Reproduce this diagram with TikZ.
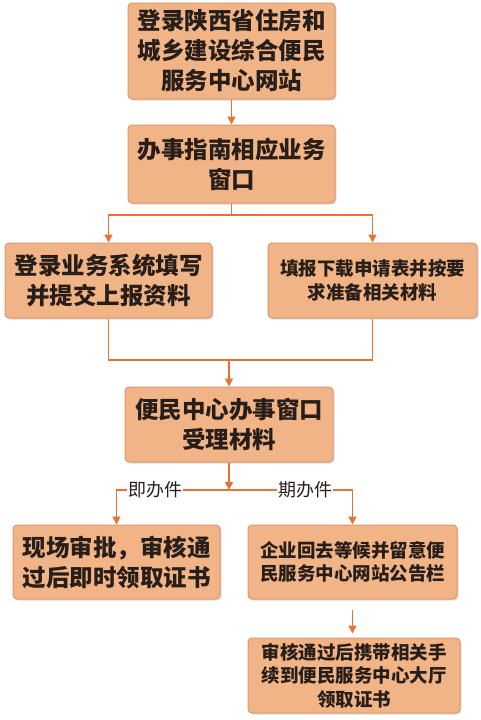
\documentclass[tikz,border=0pt]{standalone}
\usepackage{fontspec}
\newfontfamily\cjk{Noto Sans CJK SC}
\usetikzlibrary{arrows.meta,shadows}
\definecolor{boxfill}{RGB}{241,180,134}
\definecolor{boxedge}{RGB}{222,150,105}
\definecolor{lineor}{RGB}{230,115,50}
\definecolor{txt}{RGB}{40,30,25}
\tikzset{
  flowbox/.style={draw=boxedge, line width=1pt, fill=boxfill, rounded corners=4pt,
    drop shadow={shadow xshift=1.5pt, shadow yshift=-1.5pt, opacity=0.25},
    align=center, text=txt, inner sep=0pt, font=\cjk\bfseries},
  bigtxt/.style={font=\cjk\bfseries\fontsize{23.5}{30}\selectfont},
  smalltxt/.style={font=\cjk\bfseries\fontsize{18.5}{23.5}\selectfont},
  conn/.style={draw=lineor, line width=1.6pt},
  arr/.style={conn, -{Triangle[length=8pt,width=8pt]}},
  lab/.style={fill=white, inner sep=1pt, text=txt, font=\cjk\fontsize{18}{20}\selectfont}
}
\begin{document}
\begin{tikzpicture}[x=1pt,y=-1pt]
\useasboundingbox (0,0) rectangle (480,720);
\node[flowbox,bigtxt,minimum width=207pt,minimum height=96pt] (b1) at (231.5,51) {登录陕西省住房和\\城乡建设综合便民\\服务中心网站};
\node[flowbox,bigtxt,minimum width=207pt,minimum height=78pt] (b2) at (231.5,164) {办事指南相应业务\\窗口};
\node[flowbox,bigtxt,minimum width=207pt,minimum height=75pt] (b3) at (108.5,280.5) {登录业务系统填写\\并提交上报资料};
\node[flowbox,smalltxt,minimum width=209pt,minimum height=75pt] (b4) at (372.5,280.5) {填报下载申请表并按要\\求准备相关材料};
\node[flowbox,bigtxt,minimum width=208pt,minimum height=75pt] (b5) at (229,424.5) {便民中心办事窗口\\受理材料};
\node[flowbox,bigtxt,minimum width=207pt,minimum height=74pt] (b6) at (116.5,562) {现场审批，审核通\\过后即时领取证书};
\node[flowbox,smalltxt,minimum width=209pt,minimum height=74pt] (b7) at (352.5,562) {企业回去等候并留意便\\民服务中心网站公告栏};
\node[flowbox,smalltxt,minimum width=212pt,minimum height=75pt] (b8) at (354,675.5) {审核通过后携带相关手\\续到便民服务中心大厅\\领取证书};
\coordinate (j1) at (231.5,215);
\coordinate (j2) at (229,360);
\coordinate (j3) at (229,490);
\draw[arr] (b1.south) -- (b2.north);
\draw[conn] (b2.south) -- (j1);
\draw[arr] (j1) -| (b3.north);
\draw[arr] (j1) -| (b4.north);
\draw[conn] (b3.south) -- (b3.south |- j2) -- (b4.south |- j2) -- (b4.south);
\draw[arr] (j2) -- (b5.north);
\draw[arr] (j3) -| (b6.north);
\draw[arr] (j3) -| (b7.north);
\draw[arr] (b5.south) -- (j3);
\node[lab] (l1) at (155,490) {即办件};
\node[lab] (l2) at (305,490) {期办件};
\draw[arr, shorten <=10pt, shorten >=4pt] (b7.south) -- (b7.south |- b8.north);
\end{tikzpicture}
\end{document}
